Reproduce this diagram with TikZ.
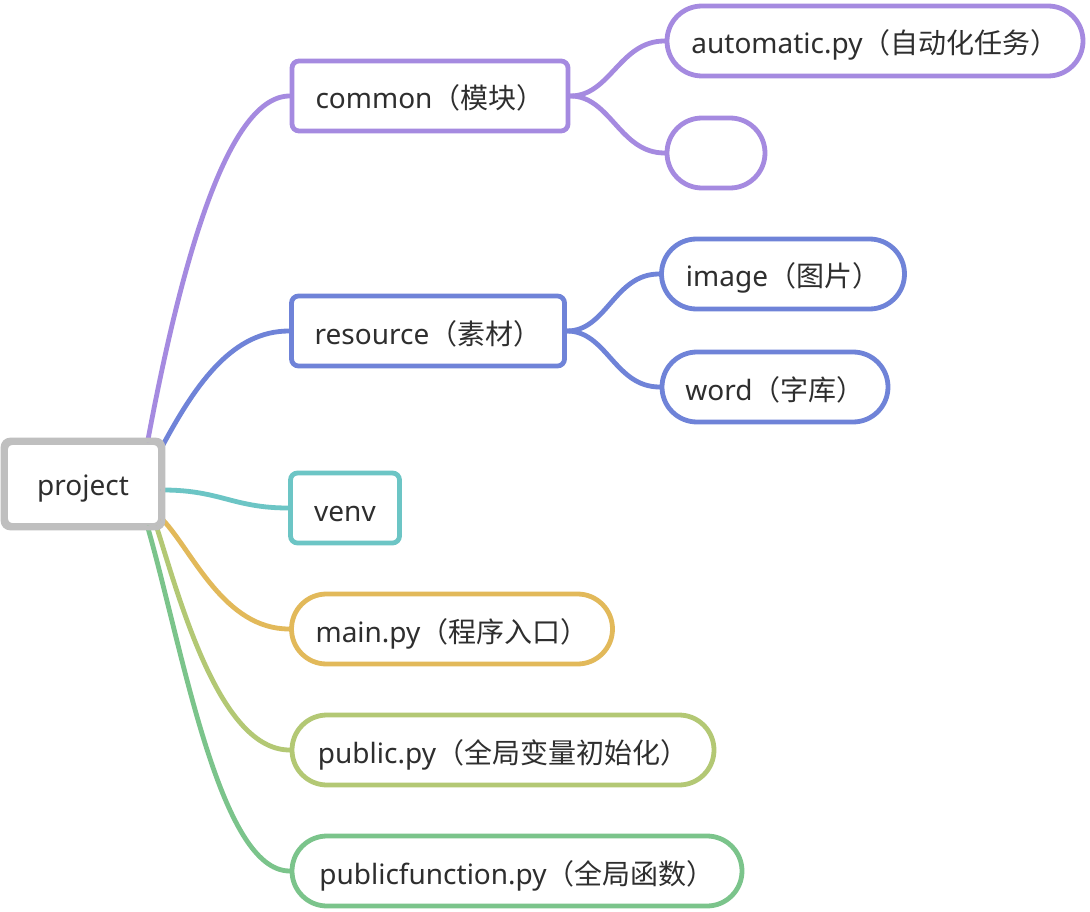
\documentclass[tikz,border=0pt]{standalone}
\usepackage{fontspec}
\setmainfont{Noto Sans}
\newfontfamily\cjk{Noto Sans CJK SC}[Scale=1.0]
\definecolor{cgray}{HTML}{BFBFBF}
\definecolor{cpurple}{HTML}{A58AE0}
\definecolor{cblue}{HTML}{6F83D8}
\definecolor{cteal}{HTML}{6CC5C5}
\definecolor{cyellow}{HTML}{E2B95A}
\definecolor{cygreen}{HTML}{B3C874}
\definecolor{cgreen}{HTML}{7BC48B}
\definecolor{ctext}{HTML}{2E2E2E}
\tikzset{
  base/.style={draw, fill=white, line width=4.8pt, text=ctext, inner sep=0pt,
    font=\fontsize{28}{33}\selectfont, minimum height=70pt,
    text height=30pt, text depth=4pt},
  boxn/.style={base, rounded corners=7pt},
  pill/.style={base, rounded corners=35pt},
  link/.style={line width=4.8pt, line cap=round},
}
\begin{document}
\begin{tikzpicture}[x=1pt,y=-1pt]
\fill[white] (0,0) rectangle (1090,912);
\useasboundingbox (0,0) rectangle (1090,912);

\path
 (83,484) node[boxn, draw=cgray, minimum width=155pt, minimum height=83pt, text height=27pt] (project) {project}
 (430,96) node[boxn, draw=cpurple, minimum width=276pt] (common) {common\cjk（模块）}
 (875,41) node[pill, draw=cpurple, minimum width=416pt] (auto) {automatic.py\cjk（自动化任务）}
 (716,153) node[pill, draw=cpurple, minimum width=98pt] (empty) {}
 (428,331) node[boxn, draw=cblue, minimum width=273pt] (resource) {resource\cjk（素材）}
 (783,274) node[pill, draw=cblue, minimum width=243pt] (image) {image\cjk（图片）}
 (775,387) node[pill, draw=cblue, minimum width=226pt] (word) {word\cjk（字库）}
 (345,508) node[boxn, draw=cteal, minimum width=109pt] (venv) {venv}
 (452,629) node[pill, draw=cyellow, minimum width=321pt] (main) {main.py\cjk（程序入口）}
 (503,750) node[pill, draw=cygreen, minimum width=422pt] (public) {public.py\cjk（全局变量初始化）}
 (517,871) node[pill, draw=cgreen, minimum width=450pt] (pubfun) {publicfunction.py\cjk（全局函数）};

\draw[link, cpurple] ([xshift=-15pt]project.north east) .. controls +(30,-160) and +(-65,0) .. (common.west);
\draw[link, cblue] ([yshift=-5pt]project.north east) .. controls +(35,-65) and +(-55,0) .. (resource.west);
\draw[link, cteal] ([yshift=-6pt]project.east) .. controls +(57,0) and +(-55,0) .. (venv.west);
\draw[link, cyellow] ([yshift=8pt]project.south east) .. controls +(30,32) and +(-65,0) .. (main.west);
\draw[link, cygreen] ([xshift=-6pt]project.south east) .. controls +(23,72) and +(-70,0) .. (public.west);
\draw[link, cgreen] ([xshift=-15pt]project.south east) .. controls +(35,122) and +(-70,0) .. (pubfun.west);

\draw[link, cpurple] (common.east) .. controls +(40,0) and +(-45,0) .. (auto.west);
\draw[link, cpurple] (common.east) .. controls +(40,0) and +(-45,0) .. (empty.west);
\draw[link, cblue] (resource.east) .. controls +(40,0) and +(-45,0) .. (image.west);
\draw[link, cblue] (resource.east) .. controls +(40,0) and +(-45,0) .. (word.west);

\draw[cgray, line width=4.8pt, rounded corners=7pt] (project.south west) rectangle (project.north east);
\end{tikzpicture}
\end{document}
